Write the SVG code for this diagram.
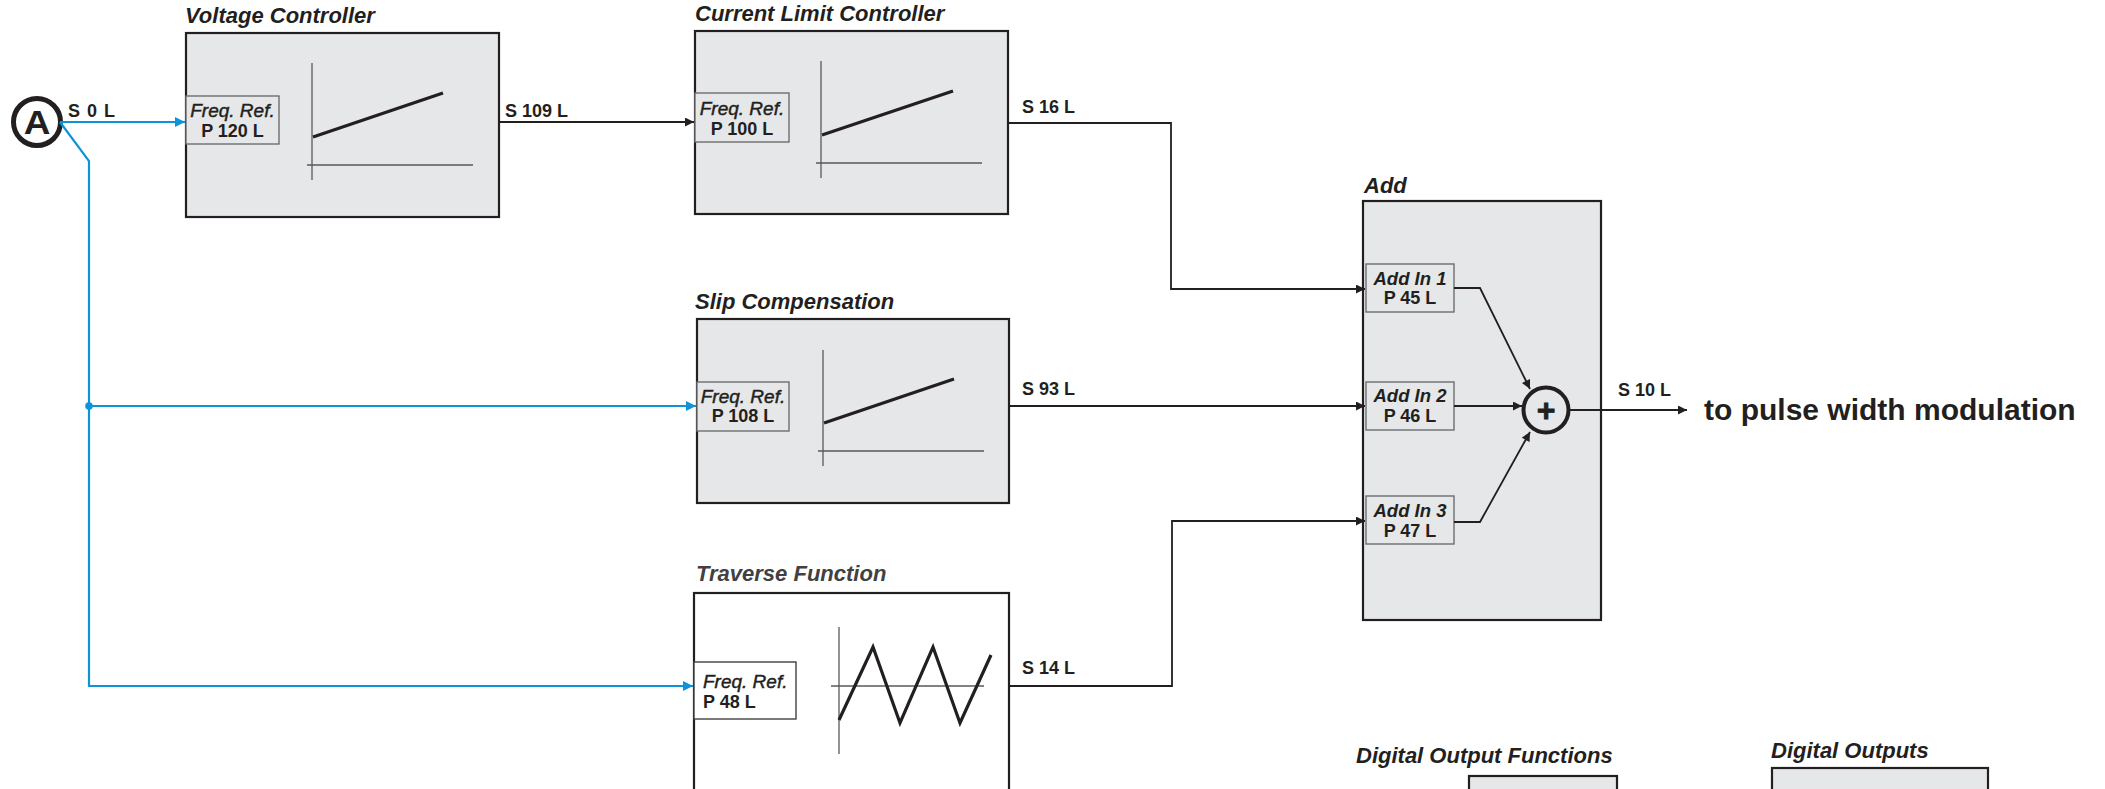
<svg xmlns="http://www.w3.org/2000/svg" width="2105" height="789" viewBox="0 0 2105 789">
<style>
.box{fill:#e6e7e8;stroke:#231f20;stroke-width:2.2}
.wbox{fill:#ffffff;stroke:#231f20;stroke-width:2.2}
.pbox{fill:#e6e7e8;stroke:#6d6e71;stroke-width:1.4}
.pwbox{fill:#ffffff;stroke:#414042;stroke-width:1.4}
.title{font-family:"Liberation Sans",Arial,sans-serif;font-weight:bold;font-style:italic;font-size:22px;fill:#231f20}
.lbl{font-family:"Liberation Sans",Arial,sans-serif;font-weight:bold;font-size:18px;fill:#231f20}
.fr{font-family:"Liberation Sans",Arial,sans-serif;font-style:italic;font-size:19px;fill:#231f20;stroke:#231f20;stroke-width:0.45}
.ai{font-family:"Liberation Sans",Arial,sans-serif;font-style:italic;font-weight:bold;font-size:18.5px;fill:#231f20}
.axis{stroke:#58595b;stroke-width:1.3;fill:none}
.curve{stroke:#231f20;stroke-width:3.2;fill:none}
.conn{stroke:#231f20;stroke-width:1.8;fill:none}
.blue{stroke:#0f93d8;stroke-width:2.2;fill:none}
</style>
<defs>
<marker id="ab" viewBox="0 0 10 10" refX="10" refY="5" markerWidth="10" markerHeight="9" markerUnits="userSpaceOnUse" orient="auto"><path d="M0,0 L10,5 L0,10 z" fill="#231f20"/></marker>
<marker id="au" viewBox="0 0 10 10" refX="10" refY="5" markerWidth="11" markerHeight="10" markerUnits="userSpaceOnUse" orient="auto"><path d="M0,0 L10,5 L0,10 z" fill="#0f93d8"/></marker>
</defs>

<g id="sourceA">
<circle cx="37" cy="122" r="23.5" fill="#ffffff" stroke="#231f20" stroke-width="5"/>
<text x="37" y="134" text-anchor="middle" font-family="'Liberation Sans',Arial,sans-serif" font-weight="bold" font-size="33" fill="#231f20" transform="translate(37,0) scale(1.12,1) translate(-37,0)">A</text>
</g>

<g id="voltage-controller">
<text class="title" x="185" y="23">Voltage Controller</text>
<rect class="box" x="186" y="33" width="313" height="184"/>
<rect class="pbox" x="186" y="96" width="93" height="48"/>
<text class="fr" x="232.5" y="117" text-anchor="middle">Freq. Ref.</text>
<text class="lbl" x="232.5" y="137" text-anchor="middle">P 120 L</text>
<line class="axis" x1="312" y1="63" x2="312" y2="180"/>
<line class="axis" x1="307" y1="165" x2="473" y2="165"/>
<line class="curve" x1="313" y1="137" x2="443" y2="93"/>
</g>

<g id="current-limit-controller">
<text class="title" x="695" y="21">Current Limit Controller</text>
<rect class="box" x="695" y="31" width="313" height="183"/>
<rect class="pbox" x="695" y="93" width="94" height="49"/>
<text class="fr" x="742" y="114.5" text-anchor="middle">Freq. Ref.</text>
<text class="lbl" x="742" y="134.5" text-anchor="middle">P 100 L</text>
<line class="axis" x1="821" y1="61" x2="821" y2="178"/>
<line class="axis" x1="816" y1="163" x2="982" y2="163"/>
<line class="curve" x1="822" y1="135" x2="953" y2="91"/>
</g>

<g id="slip-compensation">
<text class="title" x="695" y="309">Slip Compensation</text>
<rect class="box" x="697" y="319" width="312" height="184"/>
<rect class="pbox" x="697" y="382" width="92" height="49"/>
<text class="fr" x="743" y="403" text-anchor="middle">Freq. Ref.</text>
<text class="lbl" x="743" y="422" text-anchor="middle">P 108 L</text>
<line class="axis" x1="823" y1="350" x2="823" y2="466"/>
<line class="axis" x1="818" y1="451" x2="984" y2="451"/>
<line class="curve" x1="824" y1="423" x2="954" y2="379"/>
</g>

<g id="traverse-function">
<text class="title" x="696" y="581" style="fill:#414042">Traverse Function</text>
<rect class="wbox" x="694" y="593" width="315" height="205"/>
<rect class="pwbox" x="694" y="662" width="102" height="57"/>
<text class="fr" x="703" y="688">Freq. Ref.</text>
<text class="lbl" x="703" y="708">P 48 L</text>
<line class="axis" x1="839" y1="627" x2="839" y2="754"/>
<line class="axis" x1="831" y1="686" x2="984" y2="686"/>
<polyline class="curve" stroke-width="4" points="839,720 873,647 900,723 933,647 960,723 991,655"/>
</g>

<g id="add">
<text class="title" x="1364" y="193">Add</text>
<rect class="box" x="1363" y="201" width="238" height="419"/>
<rect class="pbox" x="1366" y="264" width="88" height="48"/>
<text class="ai" x="1410" y="285" text-anchor="middle">Add In 1</text>
<text class="lbl" x="1410" y="304" text-anchor="middle">P 45 L</text>
<rect class="pbox" x="1366" y="382" width="88" height="48"/>
<text class="ai" x="1410" y="402" text-anchor="middle">Add In 2</text>
<text class="lbl" x="1410" y="422" text-anchor="middle">P 46 L</text>
<rect class="pbox" x="1366" y="496" width="88" height="48"/>
<text class="ai" x="1410" y="517" text-anchor="middle">Add In 3</text>
<text class="lbl" x="1410" y="537" text-anchor="middle">P 47 L</text>
<circle cx="1546" cy="410" r="22.5" fill="none" stroke="#231f20" stroke-width="4"/>
<text x="1546" y="421" text-anchor="middle" font-family="'Liberation Sans',Arial,sans-serif" font-weight="bold" font-size="32" fill="#231f20" stroke="#231f20" stroke-width="0.8">+</text>
</g>

<g id="pwm-output">
<text x="1704" y="420" font-family="'Liberation Sans',Arial,sans-serif" font-weight="bold" font-size="30" fill="#231f20">to pulse width modulation</text>
</g>

<g id="digital-output-functions">
<text class="title" x="1356" y="763">Digital Output Functions</text>
<rect class="box" x="1469" y="776" width="148" height="30"/>
</g>

<g id="digital-outputs">
<text class="title" x="1771" y="758">Digital Outputs</text>
<rect class="box" x="1772" y="768" width="216" height="40"/>
</g>

<g id="connectors">
<path class="blue" d="M60,122 L185,122" marker-end="url(#au)"/>
<path class="blue" d="M60,122 L89,161 L89,686 L693,686" marker-end="url(#au)"/>
<path class="blue" d="M89,406 L696,406" marker-end="url(#au)"/>
<circle cx="89" cy="406" r="3.8" fill="#0f93d8"/>
<path class="conn" d="M499,122 L694,122" marker-end="url(#ab)"/>
<path class="conn" d="M1008,123 L1171,123 L1171,289 L1365,289" marker-end="url(#ab)"/>
<path class="conn" d="M1009,406 L1365,406" marker-end="url(#ab)"/>
<path class="conn" d="M1009,686 L1172,686 L1172,521 L1365,521" marker-end="url(#ab)"/>
<path class="conn" d="M1454,288 L1480,288 L1530,389" marker-end="url(#ab)"/>
<path class="conn" d="M1454,406 L1522,406" marker-end="url(#ab)"/>
<path class="conn" d="M1454,522 L1480,522 L1530,432" marker-end="url(#ab)"/>
<path class="conn" d="M1569,410 L1687,410" marker-end="url(#ab)"/>
<text class="lbl" x="68" y="117" letter-spacing="1">S 0 L</text>
<text class="lbl" x="505" y="117">S 109 L</text>
<text class="lbl" x="1022" y="113">S 16 L</text>
<text class="lbl" x="1022" y="395">S 93 L</text>
<text class="lbl" x="1022" y="674">S 14 L</text>
<text class="lbl" x="1618" y="396">S 10 L</text>
</g>
</svg>
